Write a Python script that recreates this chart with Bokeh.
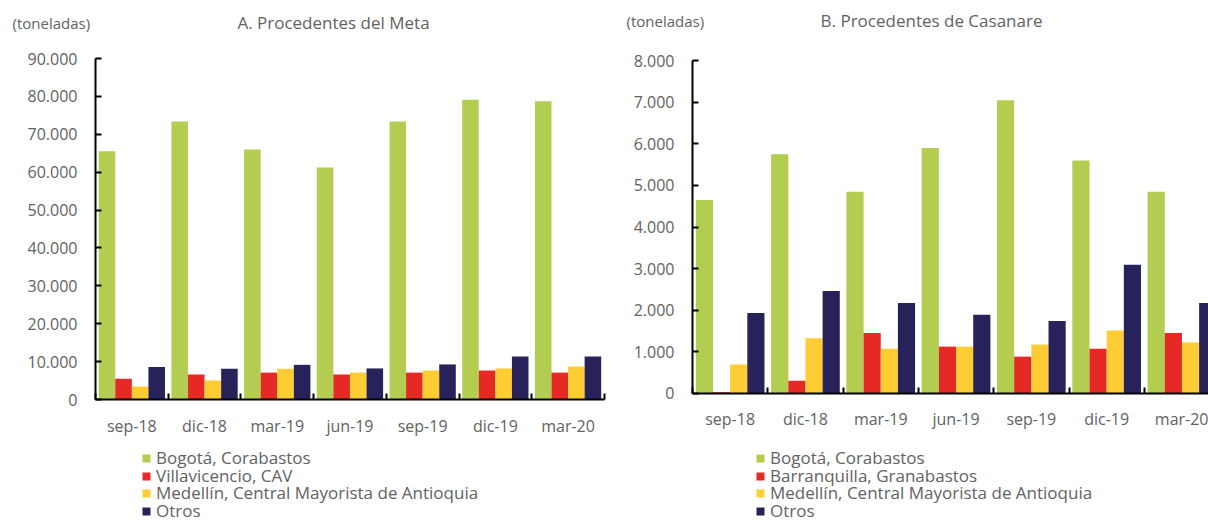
from bokeh.plotting import figure
from bokeh.models import ColumnDataSource, Range1d, FixedTicker, Legend, LegendItem, Label
from bokeh.layouts import row
from bokeh.embed import file_html
from bokeh.resources import INLINE
from bokeh.transform import dodge

# ---------------- data ----------------
periods = ["sep-18", "dic-18", "mar-19", "jun-19", "sep-19", "dic-19", "mar-20"]

meta_names = ["Bogotá, Corabastos", "Villavicencio, CAV",
              "Medellín, Central Mayorista de Antioquia", "Otros"]
meta_bogota = [65500, 73400, 66000, 61200, 73400, 79100, 78700]
meta_villavicencio = [5500, 6600, 7100, 6600, 7100, 7650, 7100]
meta_medellin = [3400, 5000, 8100, 7100, 7650, 8200, 8700]
meta_otros = [8600, 8100, 9150, 8200, 9250, 11350, 11350]

cas_names = ["Bogotá, Corabastos", "Barranquilla, Granabastos",
             "Medellín, Central Mayorista de Antioquia", "Otros"]
cas_bogota = [4650, 5750, 4850, 5900, 7050, 5600, 4850]
cas_barranquilla = [20, 300, 1450, 1120, 880, 1070, 1450]
cas_medellin = [690, 1320, 1070, 1120, 1170, 1510, 1220]
cas_otros = [1930, 2460, 2170, 1890, 1740, 3090, 2170]

meta_ticks = [0, 10000, 20000, 30000, 40000, 50000, 60000, 70000, 80000, 90000]
cas_ticks = [0, 1000, 2000, 3000, 4000, 5000, 6000, 7000, 8000]

colors = ["#B2CD4F", "#E52A26", "#FDCD33", "#27235A"]
FONT = "Open Sans"
TXT = "#626262"
H = 527
SPLIT = 612  # page x where the second chart's canvas begins


def fmt(v):
    return f"{v:,}".replace(",", ".")


def make_panel(title, series, names, ticks, width, axis_px, cat_px,
               zero_py, top_py, unit_x, title_x, text_py, legend_x, legend_rows_py):
    n = len(periods)
    # the frame spans the whole canvas; axes are pinned at x=0 / y=0
    x0 = -axis_px / cat_px
    x1 = (width - axis_px) / cat_px
    per_px = ticks[-1] / (zero_py - top_py)
    y0 = -(H - zero_py) * per_px
    y1 = ticks[-1] + top_py * per_px

    p = figure(width=width, height=H, output_backend="svg", toolbar_location=None,
               x_range=Range1d(x0, x1), y_range=Range1d(y0, y1),
               min_border=0, min_border_left=0, min_border_right=0,
               min_border_top=0, min_border_bottom=0, title=None)
    p.outline_line_color = None
    p.grid.grid_line_color = None
    p.background_fill_color = "white"
    p.border_fill_color = "white"

    centers = [i + 0.5 for i in range(n)]
    bounds = list(range(n + 1))
    data = {"x": centers}
    keys = ["s0", "s1", "s2", "s3"]
    for k, s in zip(keys, series):
        data[k] = s
    src = ColumnDataSource(data)

    bw = 0.228
    offs = [-1.5 * bw, -0.5 * bw, 0.5 * bw, 1.5 * bw]
    rends = []
    for k, off, c in zip(keys, offs, colors):
        r = p.vbar(x=dodge("x", off, range=p.x_range), top=k, width=bw, source=src,
                   fill_color=c, line_color=None)
        rends.append(r)

    # x axis
    xa = p.xaxis[0]
    xa.fixed_location = 0
    xa.bounds = (0, n)
    xa.ticker = FixedTicker(ticks=centers, minor_ticks=bounds)
    xa.major_label_overrides = {c: lab for c, lab in zip(centers, periods)}
    xa.major_tick_in = 0
    xa.major_tick_out = 0
    xa.minor_tick_in = 6
    xa.minor_tick_out = 0
    xa.minor_tick_line_width = 2
    xa.minor_tick_line_color = "black"
    xa.axis_line_width = 2
    xa.axis_line_color = "black"
    xa.major_label_standoff = 15
    xa.major_label_text_font = FONT
    xa.major_label_text_font_size = "16px"
    xa.major_label_text_color = TXT

    # y axis
    ya = p.yaxis[0]
    ya.fixed_location = 0
    ya.bounds = (0, ticks[-1])
    ya.ticker = FixedTicker(ticks=ticks)
    ya.major_label_overrides = {t: fmt(t) for t in ticks}
    ya.major_tick_in = 6
    ya.major_tick_out = 0
    ya.major_tick_line_width = 2
    ya.minor_tick_line_color = None
    ya.axis_line_width = 2
    ya.axis_line_color = "black"
    ya.major_label_standoff = 18
    ya.major_label_text_font = FONT
    ya.major_label_text_font_size = "16px"
    ya.major_label_text_color = TXT

    p.add_layout(Label(x=unit_x, y=H - text_py, x_units="screen", y_units="screen",
                       text="(toneladas)", text_font=FONT, text_font_size="15px",
                       text_color=TXT, text_baseline="middle", text_align="left"))
    p.add_layout(Label(x=title_x, y=H - text_py, x_units="screen", y_units="screen",
                       text=title, text_font=FONT, text_font_size="17px",
                       text_color=TXT, text_baseline="middle", text_align="center"))

    # one single-entry legend per series, so the rows sit as tightly as in the source
    for r, nm, cy in zip(rends, names, legend_rows_py):
        leg = Legend(items=[LegendItem(label=nm, renderers=[r])],
                     location=(legend_x, H - cy - 11),
                     background_fill_alpha=0, border_line_color=None,
                     padding=0, margin=0, spacing=0,
                     glyph_width=10, glyph_height=10, label_height=17,
                     label_standoff=5, label_text_font=FONT,
                     label_text_font_size="17px", label_text_color=TXT)
        p.add_layout(leg, "center")
    return p


rows_py = [458, 476, 493, 511]

left = make_panel("A. Procedentes del Meta",
                  [meta_bogota, meta_villavicencio, meta_medellin, meta_otros],
                  meta_names, meta_ticks,
                  width=SPLIT, axis_px=95, cat_px=72.7, zero_py=399, top_py=58,
                  unit_x=12, title_x=333, text_py=22,
                  legend_x=141, legend_rows_py=rows_py)

right = make_panel("B. Procedentes de Casanare",
                   [cas_bogota, cas_barranquilla, cas_medellin, cas_otros],
                   cas_names, cas_ticks,
                   width=1208 - SPLIT, axis_px=692 - SPLIT, cat_px=75.3,
                   zero_py=392.7, top_py=60.3,
                   unit_x=626 - SPLIT, title_x=931 - SPLIT, text_py=20,
                   legend_x=755 - SPLIT, legend_rows_py=rows_py)

layout = row(left, right, spacing=0)
open("out.html", "w").write(file_html(layout, INLINE))
